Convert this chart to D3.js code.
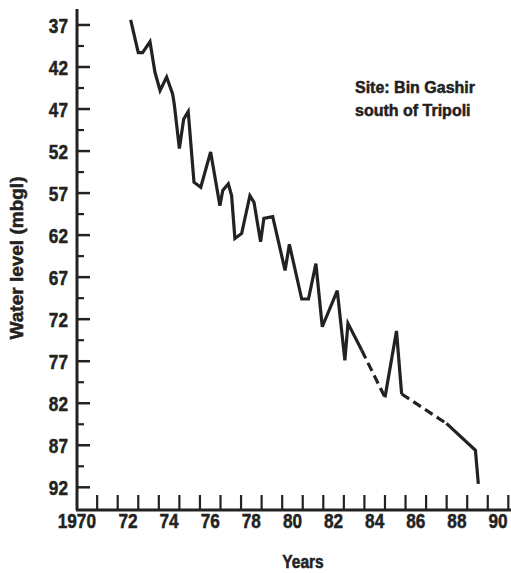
<!DOCTYPE html>
<html>
<head>
<meta charset="utf-8">
<script src="https://cdn.jsdelivr.net/npm/d3@7"></script>
<style>
  body { margin: 0; background: #fff; }
  svg text { font-family: "Liberation Sans", Arial, sans-serif; font-weight: bold; fill: #222; stroke: #222; stroke-width: 0.5px; }
</style>
</head>
<body>
<div id="chart"></div>
<script>
// water level readings, Bin Gashir site (metres below ground level)
var years = [1972.13, 1972.50, 1972.71, 1973.07, 1973.31, 1973.56, 1973.88, 1974.17, 1974.25, 1974.50,
             1974.71, 1974.93, 1975.21, 1975.54, 1976.02, 1976.47, 1976.61, 1976.88, 1977.04, 1977.20,
             1977.53, 1977.93, 1978.13, 1978.45, 1978.61, 1979.04, 1979.64, 1979.85, 1980.45, 1980.78,
             1981.14, 1981.45, 1982.18, 1982.55, 1982.70, 1983.37, 1984.50, 1985.06, 1985.31, 1987.49,
             1988.90, 1989.04]
var levels = [36.4, 40.3, 40.3, 39.0, 42.6, 44.8, 43.2, 45.2, 46.4, 51.7,
              48.2, 47.3, 55.7, 56.3, 52.1, 58.5, 56.7, 55.9, 57.3, 62.4,
              61.8, 57.3, 58.1, 62.8, 60.0, 59.8, 66.2, 63.1, 69.6, 69.6,
              65.4, 72.9, 68.6, 76.9, 72.5, 75.7, 81.3, 73.4, 80.9, 84.4,
              87.6, 91.6]
// segment i (point i -> i+1) is dashed where no readings
var dashedFrom = [35, 38]

var yTicks = [37, 42, 47, 52, 57, 62, 67, 72, 77, 82, 87, 92]
var xTicks = [1970, 1972, 1974, 1976, 1978, 1980, 1982, 1984, 1986, 1988, 1990]
var xTickLabels = ["1970", "72", "74", "76", "78", "80", "82", "84", "86", "88", "90"]

var width = 511
var height = 573

var svg = d3.select("#chart").append("svg")
  .attr("width", width)
  .attr("height", height)

var x = d3.scaleLinear().domain([1969.52, 1990.63]).range([77, 511])
var y = d3.scaleLinear().domain([35.1, 94.7]).range([9, 510])

var ink = "#222"
var narrow = 0.82  // squeeze text like a condensed face

// y axis line + ticks
svg.append("line")
  .attr("x1", 77).attr("x2", 77)
  .attr("y1", y(35.1)).attr("y2", y(94.7))
  .attr("stroke", ink).attr("stroke-width", 3)

var minorY = [34.5].concat(yTicks.map(function(v){ return v + 2.5 }))
svg.selectAll(".ymin").data(minorY.filter(function(v){ return v > 36 && v < 94 }))
  .enter().append("line")
  .attr("x1", 77).attr("x2", 84)
  .attr("y1", function(d){ return y(d) }).attr("y2", function(d){ return y(d) })
  .attr("stroke", ink).attr("stroke-width", 2.2)

svg.selectAll(".ymaj").data(yTicks).enter().append("line")
  .attr("x1", 77).attr("x2", 90)
  .attr("y1", function(d){ return y(d) }).attr("y2", function(d){ return y(d) })
  .attr("stroke", ink).attr("stroke-width", 2.5)

svg.selectAll(".ylab").data(yTicks).enter().append("text")
  .attr("transform", function(d){ return "translate(68," + y(d) + ") scale(" + narrow + ",1)" })
  .attr("dy", "0.36em")
  .attr("text-anchor", "end")
  .style("font-size", "21px")
  .text(function(d){ return d })

// x axis line + ticks (ticks sit between year labels)
svg.append("line")
  .attr("x1", 76).attr("x2", 511)
  .attr("y1", 510).attr("y2", 510)
  .attr("stroke", ink).attr("stroke-width", 3)

svg.selectAll(".xt").data(d3.range(1970.5, 1991, 1)).enter().append("line")
  .attr("x1", function(d){ return x(d) }).attr("x2", function(d){ return x(d) })
  .attr("y1", 510).attr("y2", 495)
  .attr("stroke", ink).attr("stroke-width", 2.2)

svg.selectAll(".xlab").data(xTicks).enter().append("text")
  .attr("transform", function(d, i){
    var px = i === 0 ? x(d) - 10 : x(d)
    return "translate(" + px + ",528) scale(" + narrow + ",1)"
  })
  .attr("text-anchor", "middle")
  .style("font-size", "21px")
  .text(function(d, i){ return xTickLabels[i] })

// axis titles
svg.append("text")
  .attr("transform", "translate(23,258) rotate(-90)")
  .attr("text-anchor", "middle")
  .style("font-size", "19px")
  .text("Water level (mbgl)")

svg.append("text")
  .attr("transform", "translate(303,568) scale(" + narrow + ",1)")
  .attr("text-anchor", "middle")
  .style("font-size", "19px")
  .text("Years")

// site note
svg.append("text").attr("x", 355).attr("y", 93).style("font-size", "16px").text("Site: Bin Gashir")
svg.append("text").attr("x", 355).attr("y", 116).style("font-size", "16px").text("south of Tripoli")

// the series, split in solid and dashed pieces
var pts = years.map(function(d, i){ return [d, levels[i]] })
var line = d3.line().x(function(d){ return x(d[0]) }).y(function(d){ return y(d[1]) })

var pieces = []
var cur = [pts[0]]
var curDash = dashedFrom.indexOf(0) >= 0
for (var i = 1; i < pts.length; i++) {
  var segDash = dashedFrom.indexOf(i - 1) >= 0
  if (segDash !== curDash) {
    pieces.push({ pts: cur, dash: curDash })
    cur = [pts[i - 1]]
    curDash = segDash
  }
  cur.push(pts[i])
}
pieces.push({ pts: cur, dash: curDash })

svg.selectAll(".piece").data(pieces).enter().append("path")
  .attr("d", function(d){ return line(d.pts) })
  .attr("fill", "none")
  .attr("stroke", ink)
  .attr("stroke-width", 3.2)
  .attr("stroke-linejoin", "miter")
  .attr("stroke-dasharray", function(d){ return d.dash ? "9,5" : null })
</script>
</body>
</html>
